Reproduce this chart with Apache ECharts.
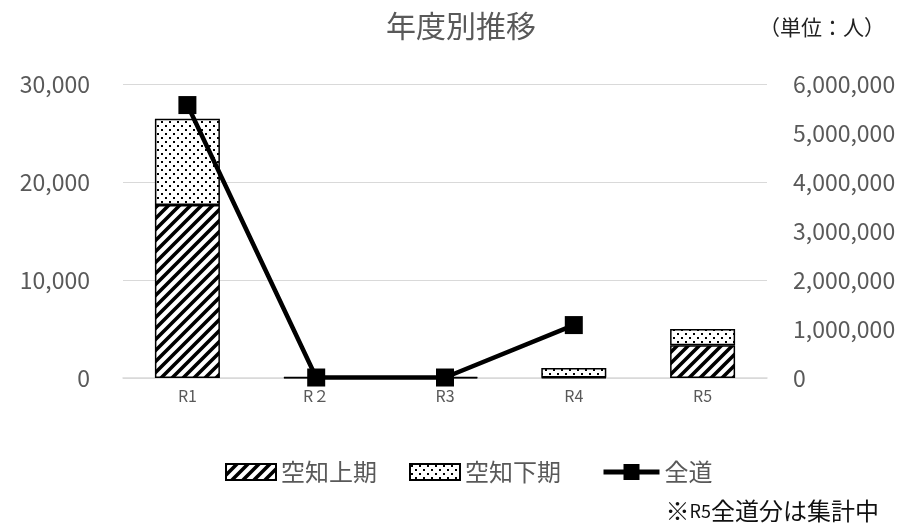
<!DOCTYPE html>
<html><head><meta charset="utf-8">
<script src="https://cdn.jsdelivr.net/npm/echarts@6/dist/echarts.min.js"></script>
<style>html,body{margin:0;padding:0;background:#fff}#c{width:922px;height:527px}</style>
</head><body><div id="c"></div>
<script>
const categories = ['R1', 'R２', 'R3', 'R4', 'R5'];
const firstHalf = [17650, 40, 40, 60, 3350];
const secondHalf = [8800, 40, 40, 960, 1650];
const wholeHokkaido = [5570000, 10000, 10000, 1080000, null];
const leftTicks = [0, 10000, 20000, 30000];
const rightTicks = [0, 1000000, 2000000, 3000000, 4000000, 5000000, 6000000];

function hatch() {
  const c = document.createElement('canvas'); const s = 11;
  c.width = s; c.height = s; const g = c.getContext('2d');
  g.fillStyle = '#fff'; g.fillRect(0, 0, s, s);
  g.strokeStyle = '#000'; g.lineWidth = 3.6; g.lineCap = 'square';
  g.beginPath();
  g.moveTo(-2, s + 2); g.lineTo(s + 2, -2);
  g.moveTo(-2 - s, s + 2); g.lineTo(2, -2);
  g.moveTo(s - 2, s + 2); g.lineTo(2 * s + 2, -2);
  g.stroke();
  return c;
}
function dots() {
  const c = document.createElement('canvas'); const s = 8;
  c.width = s; c.height = s; const g = c.getContext('2d');
  g.fillStyle = '#fff'; g.fillRect(0, 0, s, s);
  g.fillStyle = '#000';
  g.fillRect(1, 1, 2, 2); g.fillRect(5, 5, 2, 2);
  return c;
}
const hatchPat = { image: hatch(), repeat: 'repeat' };
const dotPat = { image: dots(), repeat: 'repeat' };

const chart = echarts.init(document.getElementById('c'));
const fam = '"Noto Sans CJK JP", "Noto Sans", sans-serif';
const legText = { fontSize: 24, color: '#595959', fontFamily: fam };
chart.setOption({
  backgroundColor: '#fff',
  animation: false,
  textStyle: { fontFamily: fam },
  title: [
    { text: '年度別推移', left: 'center', top: 6, textStyle: { fontSize: 30, fontWeight: 'normal', color: '#595959', fontFamily: fam } },
    { text: '（単位：人）', right: 32, top: 12, textStyle: { fontSize: 21, fontWeight: 'normal', color: '#222', fontFamily: fam } },
    { text: '※{s|R5}全道分は集計中', right: 38, top: 494, textStyle: { fontSize: 24, fontWeight: 'normal', color: '#111', fontFamily: fam,
        rich: { s: { fontSize: 18, color: '#111', fontFamily: fam } } } }
  ],
  legend: [
    { top: 455, left: 220, itemGap: 32, itemWidth: 50, itemHeight: 16, textStyle: legText,
      data: [{ name: '空知上期', icon: 'rect' }, { name: '空知下期', icon: 'rect' }] },
    { top: 455, left: 596, itemWidth: 56, itemHeight: 20, textStyle: legText,
      lineStyle: { width: 5, color: '#000' },
      data: [{ name: '全道' }] }
  ],
  grid: { left: 123, right: 155, top: 84, bottom: 149 },
  xAxis: {
    type: 'category', data: categories,
    axisLine: { lineStyle: { color: '#d9d9d9', width: 1.5 } },
    axisTick: { show: false },
    axisLabel: { fontSize: 16, color: '#595959', margin: 10 }
  },
  yAxis: [
    { type: 'value', min: 0, max: 30000, interval: 10000,
      axisLine: { show: false }, axisTick: { show: false },
      splitLine: { lineStyle: { color: '#d9d9d9', width: 1.2 } },
      axisLabel: { fontSize: 23, color: '#595959', margin: 33, formatter: v => v.toLocaleString('en-US') } },
    { type: 'value', min: 0, max: 6000000, interval: 1000000,
      axisLine: { show: false }, axisTick: { show: false }, splitLine: { show: false },
      axisLabel: { fontSize: 23, color: '#595959', margin: 26, formatter: v => v.toLocaleString('en-US') } }
  ],
  series: [
    { name: '空知上期', type: 'bar', stack: 's', yAxisIndex: 0, data: firstHalf, barWidth: 65,
      itemStyle: { color: hatchPat, borderColor: '#000', borderWidth: 1.5 } },
    { name: '空知下期', type: 'bar', stack: 's', yAxisIndex: 0, data: secondHalf, barWidth: 65,
      itemStyle: { color: dotPat, borderColor: '#000', borderWidth: 1.5 } },
    { name: '全道', type: 'line', yAxisIndex: 1, data: wholeHokkaido, z: 5,
      symbol: 'rect', symbolSize: 18, connectNulls: false,
      lineStyle: { color: '#000', width: 4.5 }, itemStyle: { color: '#000' } }
  ]
});
</script></body></html>
